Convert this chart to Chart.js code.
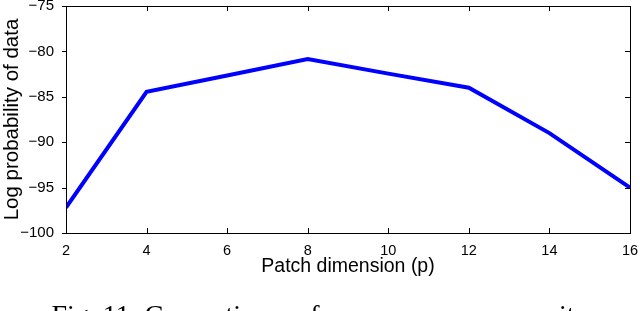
<!DOCTYPE html>
<html>
<head>
<meta charset="utf-8">
<script src="https://cdn.jsdelivr.net/npm/chart.js@4"></script>
<style>
  html, body { margin: 0; padding: 0; background: #fff; }
</style>
</head>
<body>
<canvas id="sparsityChart" width="640" height="311"></canvas>
<script>
// patch dimension p vs log probability
const patchDims = [2, 4, 6, 8, 10, 12, 14, 16];
const logProb = [-97.2, -84.45, -82.65, -80.85, -82.45, -84.0, -89.0, -95.0];
const xTicks = [2, 4, 6, 8, 10, 12, 14, 16];
const yTicks = [-100, -95, -90, -85, -80, -75];
const caption = "Fig. 11: Generative performance versus sparsity";

const sans = "'Liberation Sans', Arial, sans-serif";

// matlab style box with little ticks
const boxTicks = {
  id: "boxTicks",
  afterDraw(chart) {
    const { ctx, chartArea: a, scales } = chart;
    ctx.save();
    ctx.strokeStyle = "#000";
    ctx.lineWidth = 1;
    ctx.strokeRect(a.left + 0.5, a.top + 0.5, a.right - a.left, a.bottom - a.top);
    ctx.beginPath();
    xTicks.forEach((v) => {
      const px = Math.round(scales.x.getPixelForValue(v)) + 0.5;
      ctx.moveTo(px, a.bottom);
      ctx.lineTo(px, a.bottom - 5);
      ctx.moveTo(px, a.top);
      ctx.lineTo(px, a.top + 5);
    });
    yTicks.forEach((v) => {
      const py = Math.round(scales.y.getPixelForValue(v)) + 0.5;
      ctx.moveTo(a.left, py);
      ctx.lineTo(a.left - 4, py);
      ctx.moveTo(a.right, py);
      ctx.lineTo(a.right - 5, py);
    });
    ctx.stroke();

    ctx.fillStyle = "#000";
    ctx.font = "28px 'Liberation Serif', 'Times New Roman', serif";
    ctx.textAlign = "center";
    ctx.textBaseline = "alphabetic";
    ctx.fillText(caption, 320, 324);
    ctx.restore();
  },
};

const ctx = document.getElementById("sparsityChart").getContext("2d");
new Chart(ctx, {
  type: "line",
  data: {
    datasets: [
      {
        data: patchDims.map((p, i) => ({ x: p, y: logProb[i] })),
        borderColor: "#0000ff",
        borderWidth: 4,
        pointRadius: 0,
        tension: 0,
        fill: false,
      },
    ],
  },
  options: {
    responsive: false,
    animation: false,
    layout: { padding: { top: 6, right: 10, left: 0, bottom: 0 } },
    plugins: { legend: { display: false }, tooltip: { enabled: false } },
    scales: {
      x: {
        type: "linear",
        min: 2,
        max: 16,
        afterFit: (s) => { s.height = 78; s.paddingLeft = 0; s.paddingRight = 0; },
        afterBuildTicks: (s) => { s.ticks = xTicks.map((v) => ({ value: v })); },
        grid: { display: false },
        border: { display: false },
        ticks: { color: "#000", font: { family: sans, size: 14.5 }, padding: 1, maxRotation: 0 },
        title: {
          display: true,
          text: "Patch dimension (p)",
          color: "#000",
          font: { family: sans, size: 19.5 },
          padding: { top: 0, bottom: 33 },
        },
      },
      y: {
        min: -100,
        max: -75,
        afterFit: (s) => { s.width = 66; s.paddingTop = 0; s.paddingBottom = 0; },
        afterBuildTicks: (s) => { s.ticks = yTicks.map((v) => ({ value: v })); },
        grid: { display: false },
        border: { display: false },
        ticks: {
          color: "#000",
          font: { family: sans, size: 15 },
          padding: 4,
          callback: (v) => String(v).replace("-", "\u2212"),
        },
        title: {
          display: true,
          text: "Log probability of data",
          color: "#000",
          font: { family: sans, size: 20.5 },
          padding: { top: 0, bottom: 0 },
        },
      },
    },
  },
  plugins: [boxTicks],
});
</script>
</body>
</html>
